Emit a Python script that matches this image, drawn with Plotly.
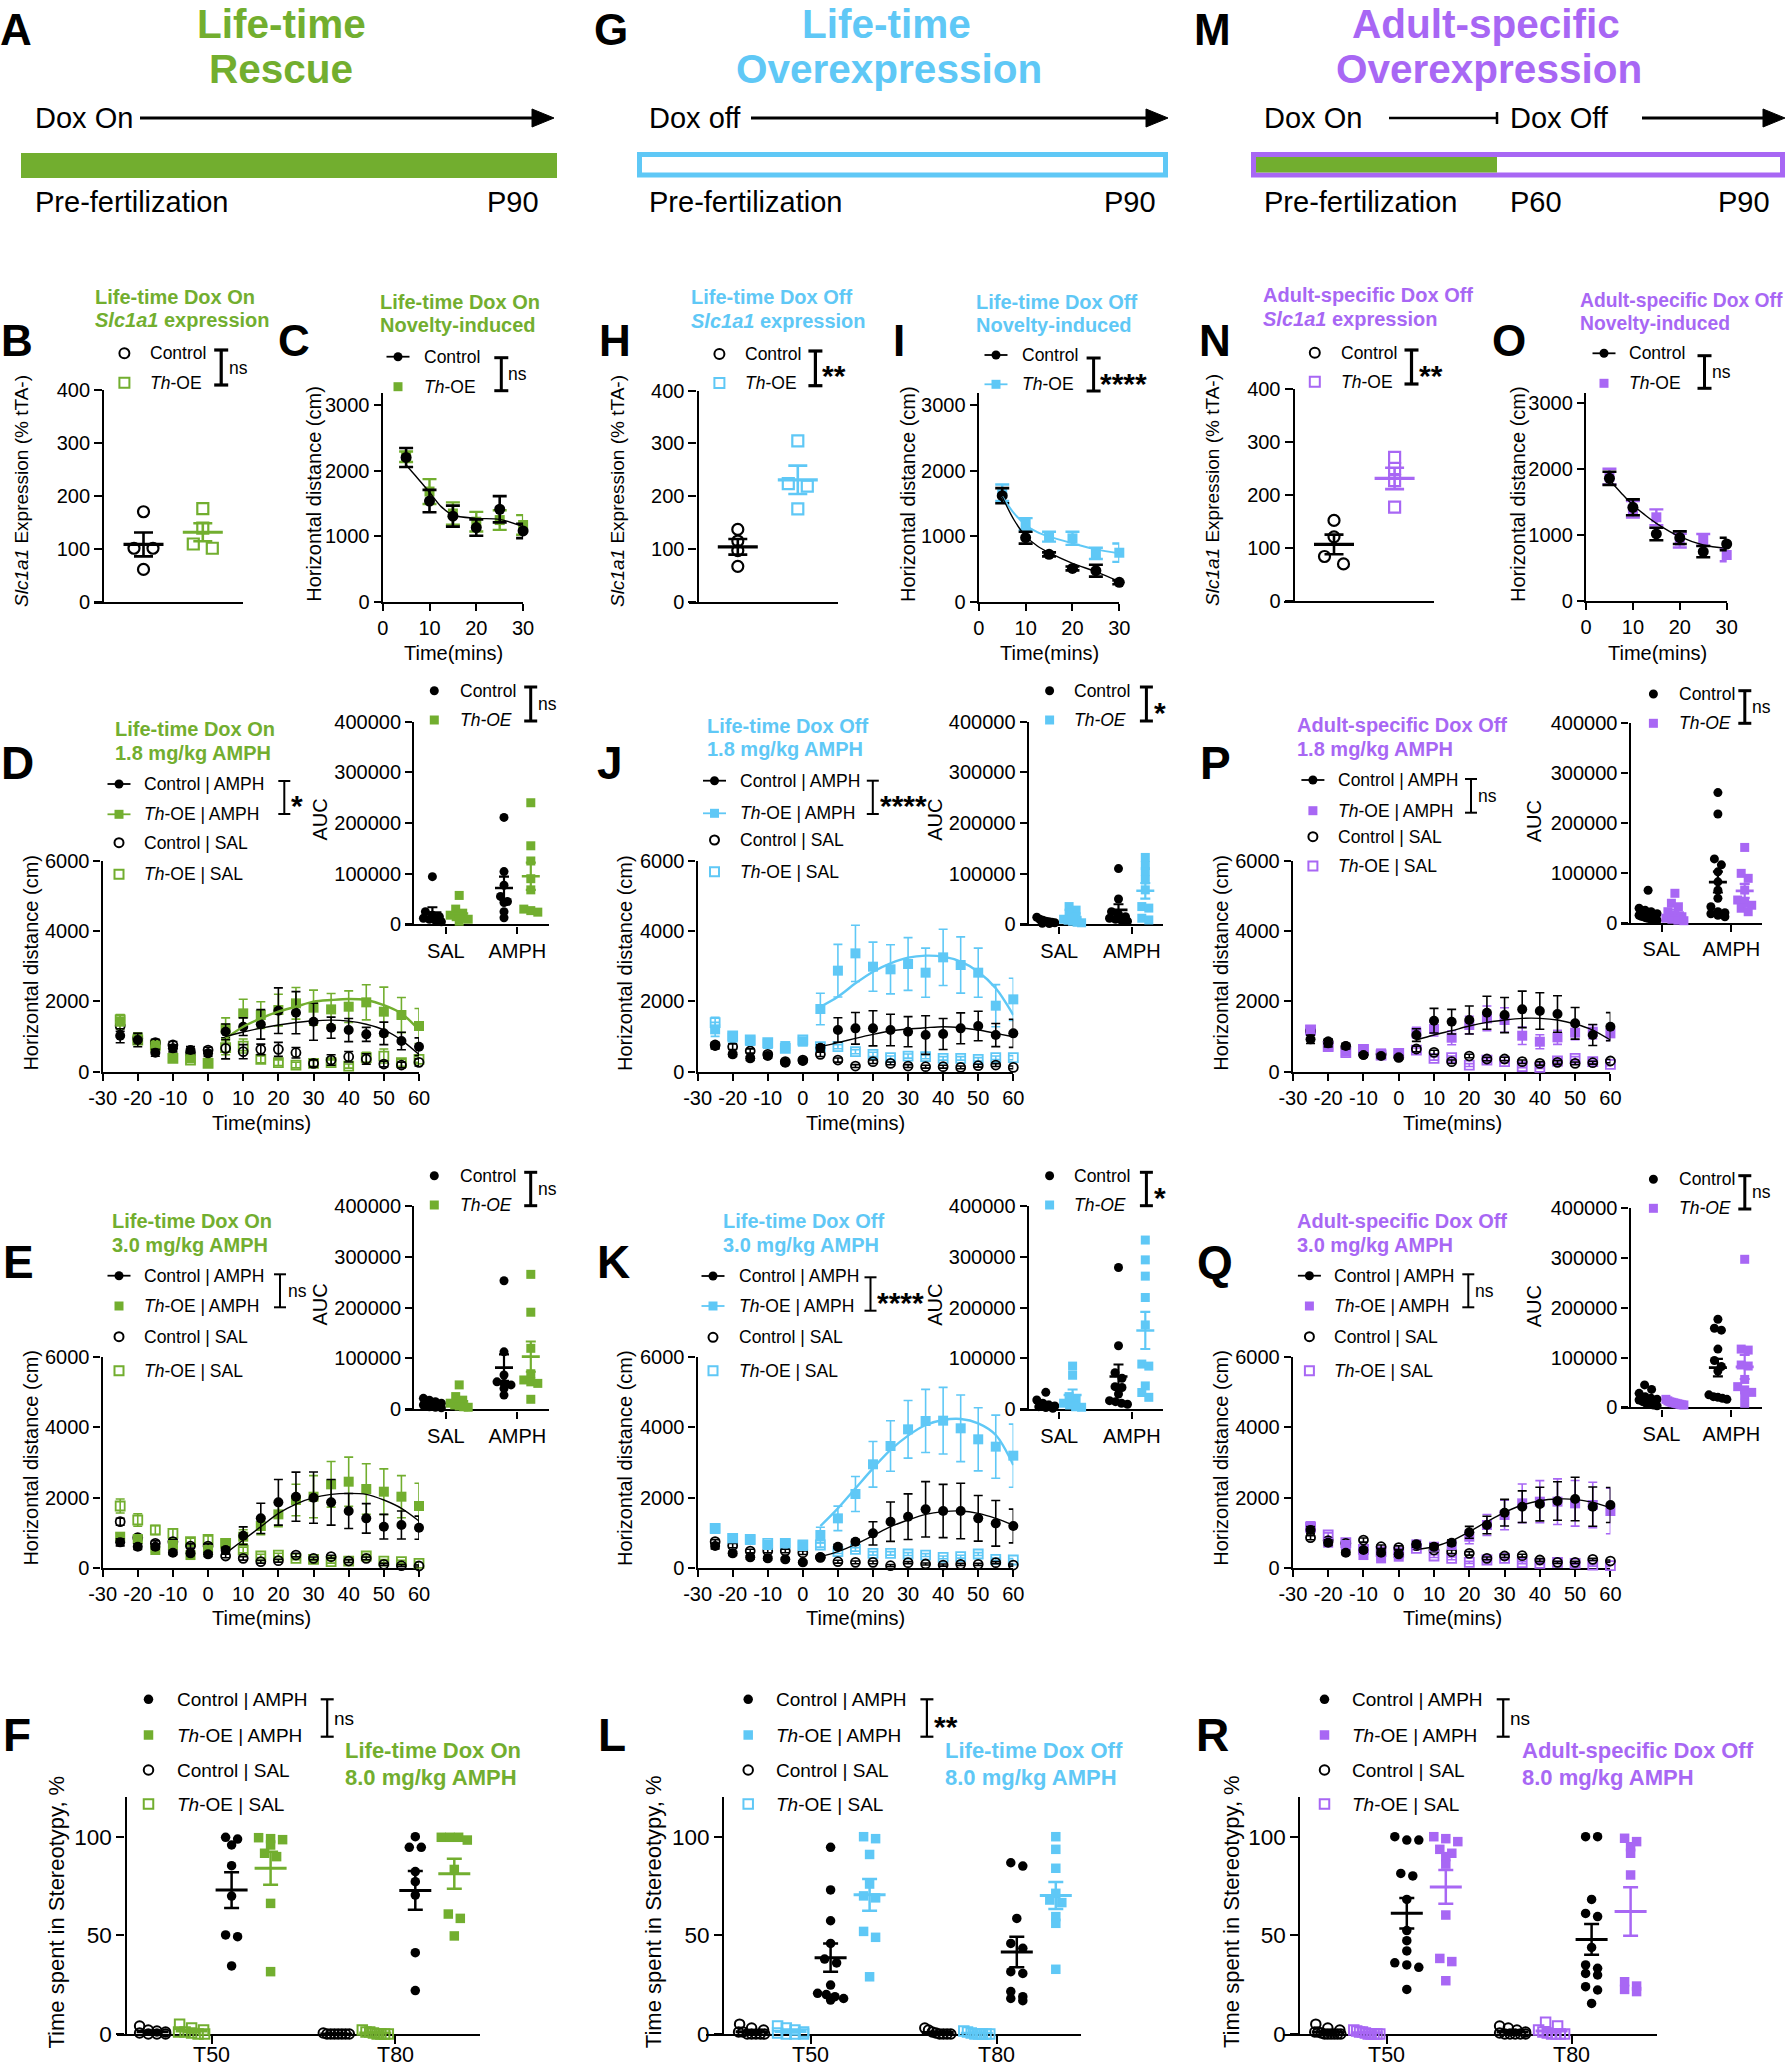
import numpy as np
import plotly.graph_objects as go

# ======================= DATA =======================
EXPR_YTICKS = [0, 100, 200, 300, 400]
NOV_XTICKS = [0, 10, 20, 30]
NOV_YTICKS = [0, 1000, 2000, 3000]
TC_XTICKS = [-30, -20, -10, 0, 10, 20, 30, 40, 50, 60]
TC_YTICKS = [0, 2000, 4000, 6000]
AUC_YTICKS = [0, 100000, 200000, 300000, 400000]
AUC_GROUPS = ["SAL", "AMPH"]
STER_YTICKS = [0, 50, 100]
STER_GROUPS = ["T50", "T80"]

# Slc1a1 expression (% tTA-)
B_CTRL = [170, 101, 101, 61]
B_OE = [176, 139, 109, 101]
H_CTRL = [137, 115, 97, 67]
H_OE = [305, 224, 219, 176]
N_CTRL = [152, 121, 84, 70]
N_OE = [271, 250, 227, 177]

# Novelty-induced locomotion
NOV_T = [5, 10, 15, 20, 25, 30]
NOV_FIT_T = [5, 7.5, 10, 12.5, 15, 20, 25, 30]
C_CTRL = [2200, 1535, 1305, 1130, 1410, 1080]
C_CTRL_E = [145, 170, 160, 125, 200, 110]
C_OE = [2210, 1680, 1345, 1220, 1245, 1170]
C_OE_E = [80, 190, 170, 150, 150, 150]
C_FIT = [2085, 1880, 1670, 1450, 1322, 1271, 1256, 1144]
I_CTRL = [1617, 976, 722, 508, 473, 295]
I_CTRL_E = [115, 90, 30, 30, 90, 30]
I_OE = [1663, 1185, 992, 966, 737, 747]
I_OE_E = [125, 90, 75, 100, 85, 140]
I_FIT_C = [1600, 1250, 1000, 850, 747, 585, 458, 305]
I_FIT_O = [1602, 1350, 1170, 1060, 992, 890, 798, 737]
O_CTRL = [1862, 1422, 1017, 961, 749, 865]
O_CTRL_E = [100, 120, 95, 95, 85, 95]
O_OE = [1887, 1391, 1270, 916, 926, 698]
O_OE_E = [120, 125, 120, 105, 90, 95]
O_FIT = [1836, 1640, 1457, 1310, 1179, 976, 850, 799]

# AMPH time courses (CA=Control|AMPH, OA=Th-OE|AMPH, CS=Control|SAL, OS=Th-OE|SAL)
TC_T = [-25, -20, -15, -10, -5, 0, 5, 10, 15, 20, 25, 30, 35, 40, 45, 50, 55, 60]
TC_FIT_T = [5, 10, 15, 20, 25, 30, 35, 40, 45, 50, 55, 60]

D_CA = [1025, 902, 541, 665, 617, 522, 1139, 1282, 1348, 1737, 1680, 1424, 1253, 1187, 1063, 1092, 873, 712]
D_CA_E = [200, 190, 100, 100, 100, 80, 220, 250, 420, 650, 600, 530, 300, 330, 200, 320, 250, 250]
D_OA = [1424, 949, 712, 399, 380, 256, 1234, 1661, 1614, 1756, 1946, 1823, 1775, 1851, 1975, 1709, 1614, 1301]
D_OA_E = [200, 150, 150, 100, 80, 80, 300, 400, 380, 450, 450, 500, 450, 450, 500, 700, 500, 500]
D_CS = [1301, 949, 826, 760, 541, 617, 665, 570, 636, 636, 541, 237, 332, 427, 361, 218, 190, 266]
D_CS_E = [150, 150, 100, 100, 80, 80, 300, 200, 150, 200, 150, 100, 150, 150, 150, 80, 80, 100]
D_OS = [1472, 902, 760, 380, 332, 237, 684, 731, 351, 256, 190, 237, 256, 161, 399, 446, 256, 351]
D_OS_E = [150, 120, 100, 80, 60, 60, 200, 200, 100, 80, 80, 80, 80, 60, 150, 200, 100, 80]
D_FIT_C = [997, 1130, 1240, 1330, 1400, 1450, 1470, 1440, 1350, 1190, 900, 490]
D_FIT_O = [949, 1282, 1519, 1709, 1851, 1994, 2041, 2070, 2041, 1899, 1661, 1187]

J_CA = [731, 494, 380, 446, 256, 304, 684, 1187, 1234, 1234, 1187, 1139, 1044, 1073, 1234, 1301, 1044, 1092]
J_CA_E = [80, 60, 60, 60, 50, 50, 80, 350, 450, 500, 450, 430, 550, 440, 440, 420, 330, 400]
J_OA = [1206, 968, 873, 788, 731, 854, 1785, 2877, 3370, 2991, 2915, 3067, 2820, 3256, 3038, 2820, 1880, 2060]
J_OA_E = [200, 100, 100, 100, 80, 80, 450, 750, 800, 700, 700, 750, 700, 800, 800, 700, 600, 600]
J_CS = [760, 712, 589, 494, 285, 332, 494, 332, 161, 285, 237, 161, 142, 142, 123, 171, 190, 123]
J_CS_E = [80, 80, 60, 60, 40, 40, 60, 60, 40, 50, 40, 40, 40, 40, 40, 40, 40, 40]
J_OS = [1396, 1016, 902, 826, 665, 902, 712, 712, 570, 494, 399, 446, 427, 380, 380, 351, 399, 399]
J_OS_E = [150, 100, 80, 80, 80, 80, 60, 60, 60, 60, 50, 60, 60, 50, 50, 50, 50, 60]
J_FIT_C = [712, 826, 949, 1063, 1158, 1215, 1253, 1282, 1253, 1187, 1092, 997]
J_FIT_O = [1851, 2136, 2516, 2848, 3086, 3247, 3304, 3275, 3133, 2848, 2374, 1614]

P_CA = [921, 807, 731, 475, 446, 408, 1044, 1453, 1424, 1472, 1680, 1614, 1775, 1728, 1643, 1377, 1044, 1282]
P_CA_E = [120, 100, 80, 60, 60, 60, 180, 350, 350, 400, 470, 500, 520, 520, 520, 450, 300, 400]
P_OA = [1187, 731, 570, 636, 522, 522, 1111, 1215, 968, 1329, 1519, 1472, 1025, 854, 978, 1111, 1139, 1092]
P_OA_E = [120, 80, 80, 60, 60, 60, 150, 200, 200, 250, 350, 350, 250, 200, 200, 200, 200, 200]
P_CS = [1158, 854, 712, 494, 494, 408, 646, 551, 285, 446, 361, 361, 285, 237, 266, 237, 256, 304]
P_CS_E = [100, 80, 60, 60, 50, 50, 80, 60, 50, 50, 50, 50, 50, 50, 50, 40, 40, 50]
P_OS = [1187, 712, 541, 636, 475, 522, 617, 380, 399, 190, 332, 285, 142, 123, 304, 380, 285, 209]
P_OS_E = [100, 60, 60, 50, 50, 50, 60, 50, 50, 40, 40, 40, 30, 30, 40, 50, 40, 40]
P_FIT_C = [902, 1044, 1168, 1301, 1405, 1472, 1519, 1519, 1472, 1358, 1187, 902]

E_CA = [723, 599, 599, 428, 409, 380, 504, 913, 1407, 1864, 2025, 1997, 1864, 1617, 1407, 1170, 1217, 1141]
E_CA_E = [100, 80, 70, 60, 60, 60, 80, 250, 430, 650, 700, 730, 650, 500, 420, 350, 400, 330]
E_OA = [884, 818, 504, 647, 361, 504, 694, 884, 1189, 1521, 1930, 2025, 2377, 2453, 2244, 2168, 2025, 1759]
E_OA_E = [100, 80, 60, 60, 50, 60, 100, 200, 250, 350, 450, 600, 650, 700, 720, 650, 600, 650]
E_CS = [1312, 856, 694, 742, 618, 618, 333, 266, 171, 200, 361, 266, 314, 190, 266, 95, 57, 48]
E_CS_E = [100, 80, 70, 60, 60, 60, 50, 50, 40, 40, 50, 40, 40, 40, 40, 30, 30, 30]
E_OS = [1759, 1360, 1075, 979, 742, 808, 694, 504, 333, 361, 266, 238, 171, 190, 333, 190, 171, 124]
E_OS_E = [200, 180, 130, 130, 100, 100, 80, 80, 50, 50, 40, 40, 40, 40, 40, 40, 40, 40]
E_FIT_C = [409, 789, 1170, 1550, 1816, 1997, 2092, 2120, 2092, 1930, 1693, 1331]

K_CA = [618, 409, 295, 266, 238, 152, 295, 599, 742, 979, 1312, 1455, 1664, 1617, 1617, 1407, 1265, 1189]
K_CA_E = [80, 60, 50, 50, 40, 40, 50, 60, 60, 330, 560, 650, 790, 760, 790, 650, 650, 480]
K_OA = [1103, 837, 789, 647, 694, 618, 932, 1407, 2101, 2948, 3471, 3946, 4184, 4193, 3975, 3661, 3452, 3195]
K_OA_E = [100, 80, 80, 60, 60, 60, 220, 350, 500, 650, 720, 820, 900, 950, 950, 900, 900, 900]
K_CS = [742, 628, 475, 475, 475, 428, 295, 171, 152, 152, 57, 143, 105, 76, 95, 95, 143, 76]
K_CS_E = [60, 60, 50, 50, 50, 50, 40, 40, 40, 40, 30, 30, 30, 30, 30, 30, 30, 30]
K_OS = [1122, 837, 808, 694, 694, 647, 647, 456, 523, 409, 409, 390, 361, 295, 314, 390, 238, 219]
K_OS_E = [100, 80, 80, 60, 60, 60, 60, 50, 50, 50, 50, 40, 40, 40, 40, 40, 40, 40]
K_FIT_C = [314, 456, 666, 913, 1170, 1360, 1521, 1598, 1617, 1550, 1407, 1217]
K_FIT_O = [1189, 1693, 2263, 2834, 3357, 3766, 4070, 4213, 4241, 4117, 3785, 2929]

Q_CA = [1075, 713, 428, 504, 428, 380, 666, 599, 713, 1008, 1217, 1569, 1740, 1816, 1902, 1959, 1740, 1788]
Q_CA_E = [100, 80, 60, 60, 60, 50, 80, 80, 80, 170, 250, 380, 450, 480, 550, 620, 560, 500]
Q_OA = [1189, 713, 647, 361, 266, 314, 666, 599, 647, 884, 1217, 1502, 1835, 1883, 1883, 1835, 1788, 1617]
Q_OA_E = [100, 60, 60, 50, 50, 50, 60, 60, 80, 200, 300, 420, 550, 600, 650, 650, 650, 650]
Q_CS = [856, 770, 694, 789, 599, 571, 628, 504, 456, 409, 266, 333, 342, 219, 152, 152, 238, 190]
Q_CS_E = [60, 60, 60, 60, 50, 50, 50, 50, 50, 50, 40, 40, 40, 40, 30, 30, 30, 30]
Q_OS = [1151, 932, 713, 523, 456, 428, 552, 333, 266, 152, 219, 266, 143, 124, 152, 124, 76, 57]
Q_OS_E = [80, 60, 50, 50, 40, 40, 40, 40, 40, 30, 30, 30, 30, 30, 30, 30, 30, 30]
Q_FIT_C = [523, 599, 770, 1027, 1312, 1578, 1788, 1911, 1959, 1949, 1864, 1712]

# AUC insets
D_AUC_SAL_C = [94000, 25000, 18000, 15000, 12000, 10000, 8000, 5000]
D_AUC_SAL_O = [57000, 30000, 22000, 18000, 15000, 12000, 10000, 6000]
D_AUC_AMPH_C = [211000, 104000, 77000, 55000, 45000, 43000, 25000, 13000]
D_AUC_AMPH_O = [240000, 155000, 125000, 90000, 68000, 30000, 27000, 24000]
J_AUC_SAL_C = [14000, 10000, 8000, 6000, 5000, 4000, 3000, 2000, 1500]
J_AUC_SAL_O = [35000, 28000, 22000, 15000, 10000, 8000, 6000, 4000, 3000]
J_AUC_AMPH_C = [110000, 50000, 25000, 20000, 15000, 12000, 10000, 8000, 6000]
J_AUC_AMPH_O = [132000, 116000, 104000, 87500, 68000, 35000, 32000, 12000, 8600]
P_AUC_SAL_C = [65000, 29000, 25000, 22000, 18000, 15000, 13000, 12000, 10000, 9000, 8000, 7000, 6000, 5000]
P_AUC_SAL_O = [59000, 39000, 32000, 22000, 15000, 12000, 9000, 7000, 5000, 4000]
P_AUC_AMPH_C = [261000, 218000, 128000, 116000, 102000, 82000, 65000, 49000, 32000, 22000, 20000, 18000, 15000, 12000]
P_AUC_AMPH_O = [151000, 99000, 89000, 65500, 45500, 39000, 35000, 29000, 22000]
E_AUC_SAL_C = [21600, 18000, 15000, 12000, 8500, 5000, 4000, 3000]
E_AUC_SAL_O = [48000, 25000, 18000, 12000, 8500, 6500, 5000, 4000]
E_AUC_AMPH_C = [253000, 113000, 67500, 54000, 51000, 48000, 41000, 28000]
E_AUC_AMPH_O = [265500, 191000, 120000, 70000, 57700, 54000, 51000, 19700]
K_AUC_SAL_C = [33400, 18400, 11800, 8500, 6600, 5200, 3300, 2000]
K_AUC_SAL_O = [85000, 67000, 25000, 18000, 12000, 8500, 5000, 4000]
K_AUC_AMPH_C = [279000, 125000, 72000, 61000, 44500, 43000, 30000, 17000, 15000, 12000, 10000]
K_AUC_AMPH_O = [333000, 294000, 262000, 220000, 166000, 89000, 85000, 46000, 33000, 23600]
Q_AUC_SAL_C = [45000, 36000, 28000, 21400, 18000, 16000, 14700, 11400, 8000, 6000, 4700, 3000]
Q_AUC_SAL_O = [16000, 13000, 11000, 10000, 9000, 8000, 7000, 6000, 5000, 4700]
Q_AUC_AMPH_C = [177000, 159000, 155000, 117000, 94000, 82000, 73000, 25000, 21400, 20000, 18000, 16000]
Q_AUC_AMPH_O = [297500, 117000, 115000, 85000, 83000, 56000, 41500, 35000, 30000, 25000, 8000]

# Stereotypy (% time) -- CS, OS, CA, OA per time bin
F_T50_CS = [4, 2, 1.5, 1, 0.5, 0, 0, 0]
F_T50_OS = [5, 3, 2, 1, 1, 0.5, 0, 0]
F_T50_CA = [99.7, 98.8, 95.8, 85.3, 69.9, 50.2, 49.3, 34.5]
F_T50_OA = [99.5, 99, 98.5, 95.8, 91.6, 89.9, 66.2, 31.6]
F_T80_CS = [0.5, 0, 0, 0, 0, 0, 0, 0]
F_T80_OS = [2, 1, 1, 0.5, 0, 0, 0, 0]
F_T80_CA = [100, 94.6, 94.6, 82.3, 77.2, 70.4, 41.2, 22]
F_T80_OA = [99.7, 99.7, 99.7, 98.3, 83.4, 60.8, 58.6, 49.7]
L_T50_CS = [5, 3, 2, 1, 1, 0, 0, 0, 0, 0]
L_T50_OS = [4, 3, 2, 1, 0.5, 0, 0, 0]
L_T50_CA = [94.6, 73, 57.4, 45.9, 38, 36, 24.8, 20.6, 20, 18.9, 18, 17.2]
L_T50_OA = [100, 99, 91, 76, 70, 69, 52, 49, 29]
L_T80_CS = [3, 2, 1, 0.5, 0, 0, 0, 0]
L_T80_OS = [1.5, 1, 0.5, 0, 0, 0, 0, 0]
L_T80_CA = [86.8, 85.1, 58.6, 45.9, 43.4, 31.6, 30.7, 21.5, 18.9, 18, 16.9]
L_T80_OA = [100, 93.6, 84, 71.3, 67.9, 66.6, 59.5, 56.1, 32.8]
R_T50_CS = [5, 3, 2, 1, 1, 0.5, 0, 0, 0, 0, 0, 0]
R_T50_OS = [2, 1.5, 1, 1, 0.5, 0, 0, 0, 0, 0]
R_T50_CA = [100, 98.3, 98.3, 81.4, 80.1, 68.2, 52.4, 47.3, 42.1, 36.1, 35, 33.8, 22.6]
R_T50_OA = [100, 99, 97.5, 93.6, 91.6, 89.9, 86.1, 60.3, 38.3, 36.7, 27]
R_T80_CS = [4, 3, 2, 1, 0.5, 0, 0, 0, 0, 0]
R_T80_OS = [6, 4, 2, 1, 0.5, 0, 0, 0, 0]
R_T80_CA = [100, 100, 68.2, 61.1, 59.5, 43.9, 35, 33.3, 30.7, 29.9, 24, 22.3, 15.5]
R_T80_OA = [99.2, 97.5, 94.9, 91.6, 80.6, 26.5, 24.3, 22.6, 21.5]

# ======================= STYLE / HELPERS =======================
W, H = 1792, 2070
FONT = "Liberation Sans, Arial, Helvetica, sans-serif"
GREEN = "#72AE2F"
BLUE = "#5FC8F6"
PURPLE = "#A867F4"

fig = go.Figure()
SHAPES, ANNS, AXES = [], [], {}
_count = [0]


def PX(x):
    return x / W


def PY(y):
    return 1 - y / H


def base_axis(fs, tl):
    return dict(showline=True, linecolor="black", linewidth=2.4, ticks="outside", ticklen=tl,
                tickwidth=2.2, tickcolor="black", showgrid=False, zeroline=False,
                layer="below traces", fixedrange=True, automargin=False,
                tickfont=dict(family=FONT, size=fs, color="black"))


def new_axes(x0, x1, xrange, yb, yt, yrange, ypos=None, fs=20, tl=7, xkw=None, ykw=None):
    _count[0] += 1
    n = _count[0]
    sfx = "" if n == 1 else str(n)
    xa = base_axis(fs, tl)
    ya = base_axis(fs, tl)
    xa.update(domain=[PX(x0), PX(x1)], range=list(xrange), anchor="y" + sfx)
    ya.update(domain=[PY(yb), PY(yt)], range=list(yrange), anchor="x" + sfx)
    if ypos is not None:
        ya.update(anchor="free", position=PX(ypos))
    if xkw:
        xa.update(xkw)
    if ykw:
        ya.update(ykw)
    AXES["xaxis" + sfx] = xa
    AXES["yaxis" + sfx] = ya
    return "x" + sfx, "y" + sfx


def T(x, y, s, size, color="black", anchor="left", bold=False, angle=0):
    if bold:
        s = "<b>" + s + "</b>"
    ANNS.append(dict(x=PX(x), y=PY(y), xref="paper", yref="paper", text=s, showarrow=False,
                     xanchor=anchor, yanchor="middle", textangle=angle, borderpad=0,
                     font=dict(family=FONT, size=size, color=color)))


def LINE(x0, y0, x1, y1, color="black", w=2.0):
    SHAPES.append(dict(type="line", xref="paper", yref="paper", x0=PX(x0), y0=PY(y0),
                       x1=PX(x1), y1=PY(y1), line=dict(color=color, width=w)))


def RECT(x0, y0, x1, y1, fill, color=None, w=0):
    SHAPES.append(dict(type="rect", xref="paper", yref="paper", x0=PX(x0), y0=PY(y1),
                       x1=PX(x1), y1=PY(y0), fillcolor=fill,
                       line=dict(color=color or fill, width=w)))


def SYM(x, y, kind, color, filled, size=10, lw=2, seg=0, segw=1.8):
    if seg:
        LINE(x - seg, y, x + seg, y, color, segw)
    r = size / 2.0
    SHAPES.append(dict(type="circle" if kind == "c" else "rect", xref="paper", yref="paper",
                       x0=PX(x - r), x1=PX(x + r), y0=PY(y + r), y1=PY(y - r),
                       fillcolor=color if filled else "white",
                       line=dict(color=color, width=0 if filled else lw)))


def BRACKET(x, y0, y1, cap=6.5, w=2.5):
    LINE(x, y0, x, y1, "black", w)
    LINE(x - cap, y0, x + cap, y0, "black", w)
    LINE(x - cap, y1, x + cap, y1, "black", w)


def SIG(x, y, s, size=17.5):
    if s == "ns":
        T(x, y, "ns", size)
    else:
        T(x, y + 8, s, 30, bold=True)


def ARROW(x0, x1, y, w=3, hl=22, hw=9):
    LINE(x0, y, x1 - hl + 2, y, "black", w)
    SHAPES.append(dict(type="path", xref="paper", yref="paper",
                       path="M %f,%f L %f,%f L %f,%f Z" % (PX(x1 - hl), PY(y - hw), PX(x1), PY(y),
                                                         PX(x1 - hl), PY(y + hw)),
                       fillcolor="black", line=dict(color="black", width=1)))


def swarm(vals, ppu_y, d, maxw, rowh):
    vals = np.asarray(vals, float)
    order = np.argsort(-vals, kind="stable")
    offs = np.zeros(len(vals))
    rows, cur = [], []
    for i in order:
        if cur and (vals[cur[0]] - vals[i]) * ppu_y > rowh:
            rows.append(cur)
            cur = []
        cur.append(i)
    if cur:
        rows.append(cur)
    for r in rows:
        n = len(r)
        step = d if (n - 1) * d <= maxw else maxw / max(n - 1, 1)
        for k, i in enumerate(r):
            offs[i] = (k - (n - 1) / 2.0) * step
    return offs


def dots(xa, ya, xc, vals, ppu_x, ppu_y, symbol, color, size, lw, d, maxw, rowh,
         mhalf, chalf, mth, eth):
    v = np.asarray(vals, float)
    offs = swarm(v, ppu_y, d, maxw, rowh)
    fig.add_trace(go.Scatter(x=xc + offs / ppu_x, y=v, mode="markers", xaxis=xa, yaxis=ya,
                             marker=dict(symbol=symbol, size=size, color=color,
                                         line=dict(color=color, width=lw)),
                             cliponaxis=False, showlegend=False, hoverinfo="skip"))
    m = v.mean()
    s = v.std(ddof=1) / np.sqrt(len(v))
    fig.add_trace(go.Scatter(x=[xc], y=[m], mode="markers", xaxis=xa, yaxis=ya,
                             marker=dict(size=1, color=color, opacity=0),
                             error_x=dict(type="constant", value=mhalf / ppu_x, width=0,
                                          thickness=mth, color=color),
                             error_y=dict(type="constant", value=s, width=chalf,
                                          thickness=eth, color=color),
                             cliponaxis=False, showlegend=False, hoverinfo="skip"))


def series(xa, ya, t, v, e, symbol, color, size, lw, ew=4.5, eth=1.6):
    fig.add_trace(go.Scatter(x=t, y=v, mode="markers", xaxis=xa, yaxis=ya,
                             marker=dict(symbol=symbol, size=size, color=color,
                                         line=dict(color=color, width=lw)),
                             error_y=dict(type="data", array=e, visible=True, width=ew,
                                          thickness=eth, color=color),
                             cliponaxis=False, showlegend=False, hoverinfo="skip"))


def fitline(xa, ya, t, v, color, w):
    fig.add_trace(go.Scatter(x=t, y=v, mode="lines", xaxis=xa, yaxis=ya,
                             line=dict(color=color, width=w, shape="spline", smoothing=0.9),
                             cliponaxis=False, showlegend=False, hoverinfo="skip"))


def ticks(vals):
    return dict(tickvals=vals, ticktext=[str(v) for v in vals])


# ======================= TOP ROW (A, G, M) =======================
TOPF = 29
HEADF = 40.5
T(-1, 29, "A", 44, bold=True)
T(281, 24, "Life-time", HEADF, GREEN, "center", True)
T(281, 69, "Rescue", HEADF, GREEN, "center", True)
T(34, 118, "Dox On", TOPF)
ARROW(140, 554, 118)
RECT(21, 153, 557, 178, GREEN)
T(34, 202, "Pre-fertilization", TOPF)
T(540, 202, "P90", TOPF, anchor="right")

T(593, 29, "G", 44, bold=True)
T(886, 24, "Life-time", HEADF, BLUE, "center", True)
T(889, 69, "Overexpression", HEADF, BLUE, "center", True)
T(648, 118, "Dox off", TOPF)
ARROW(751, 1168, 118)
RECT(639.5, 154.5, 1165.5, 175, "white", BLUE, 5)
T(648, 202, "Pre-fertilization", TOPF)
T(1157, 202, "P90", TOPF, anchor="right")

T(1193, 29, "M", 44, bold=True)
T(1486, 24, "Adult-specific", HEADF, PURPLE, "center", True)
T(1489, 69, "Overexpression", HEADF, PURPLE, "center", True)
T(1263, 118, "Dox On", TOPF)
LINE(1389, 118, 1497, 118, "black", 2.5)
LINE(1497, 112, 1497, 124, "black", 2.5)
T(1509, 118, "Dox Off", TOPF)
ARROW(1642, 1785, 118)
RECT(1253.5, 154.5, 1782.5, 175, "white", PURPLE, 5)
RECT(1256, 157, 1497, 172.5, GREEN)
T(1263, 202, "Pre-fertilization", TOPF)
T(1509, 202, "P60", TOPF)
T(1771, 202, "P90", TOPF, anchor="right")

# ======================= ROW 2: expression (B,H,N) & novelty (C,I,O) ===========
YLAB_EXPR = "<i>Slc1a1</i> Expression (% tTA-)"
YLAB_HD = "Horizontal distance (cm)"
AXF = 20


def expr_panel(g, ctrl, oe, color):
    ppu_x = g["c1"] - g["c0"]
    ppu_y = (g["y0"] - g["yt"]) / 400.0
    xr = [(g["xlo"] - g["c0"]) / ppu_x, (g["xhi"] - g["c0"]) / ppu_x]
    xa, ya = new_axes(g["xlo"], g["xhi"], xr, g["y0"], g["yt"], [0, 400], ypos=g["yx"], tl=8,
                      xkw=dict(ticks="", showticklabels=False), ykw=ticks(EXPR_YTICKS))
    dots(xa, ya, 0, ctrl, ppu_x, ppu_y, "circle-open", "black", 11, 2.2, 19, 40, 9, 20, 9.5, 3.2, 2.6)
    dots(xa, ya, 1, oe, ppu_x, ppu_y, "square-open", color, 11, 2.2, 19, 40, 9, 20, 9.5, 3.2, 2.6)


def nov_panel(g, ctrl, ce, oe, oee, fitc, fito, color):
    ymax = 3000.0 * (g["y0"] - g["yt"]) / (g["y0"] - g["y3k"])
    xa, ya = new_axes(g["x0"], g["x30"], [0, 30], g["y0"], g["yt"], [0, ymax], tl=7,
                      xkw=ticks(NOV_XTICKS), ykw=ticks(NOV_YTICKS))
    series(xa, ya, NOV_T, oe, oee, "square", color, 10, 0, ew=7, eth=2.4)
    series(xa, ya, NOV_T, ctrl, ce, "circle", "black", 11, 0, ew=7, eth=2.6)
    if fito is not None:
        fitline(xa, ya, NOV_FIT_T, fito, color, 2.0)
    fitline(xa, ya, NOV_FIT_T, fitc, "black", 1.4)


expr_panel(dict(yx=103.3, xlo=93.8, xhi=243.4, c0=143.5, c1=202.8, y0=601.7, yt=390.0), B_CTRL, B_OE, GREEN)
expr_panel(dict(yx=697.6, xlo=688.8, xhi=838.0, c0=737.8, c1=797.8, y0=601.7, yt=390.7), H_CTRL, H_OE, BLUE)
expr_panel(dict(yx=1293.7, xlo=1284.0, xhi=1434.2, c0=1334.0, c1=1394.6, y0=601.0, yt=389.0), N_CTRL, N_OE, PURPLE)
nov_panel(dict(x0=382.7, x30=523.1, y0=601.7, y3k=405.0, yt=393.3), C_CTRL, C_CTRL_E, C_OE, C_OE_E, C_FIT, None, GREEN)
nov_panel(dict(x0=978.8, x30=1119.3, y0=601.7, y3k=405.0, yt=393.3), I_CTRL, I_CTRL_E, I_OE, I_OE_E, I_FIT_C, I_FIT_O, BLUE)
nov_panel(dict(x0=1586.0, x30=1726.7, y0=601.0, y3k=403.3, yt=392.7), O_CTRL, O_CTRL_E, O_OE, O_OE_E, O_FIT, None, PURPLE)

LF = 17.5
TF = 20
# B
T(0, 340, "B", 44, bold=True)
T(94, 297, "Life-time Dox On", TF, GREEN, bold=True)
T(94, 320.5, "<i>Slc1a1</i> expression", TF, GREEN, bold=True)
SYM(124.4, 353.3, "c", "black", False, 10)
T(149, 353.3, "Control", LF)
SYM(124.4, 382.7, "s", GREEN, False, 10)
T(149, 382.7, "<i>Th</i>-OE", LF)
BRACKET(221.2, 350, 385, 7, 3.2)
SIG(228, 368, "ns")
T(21, 491, YLAB_EXPR, 19, anchor="center", angle=-90)
# C
T(277, 340, "C", 44, bold=True)
T(379, 301.7, "Life-time Dox On", TF, GREEN, bold=True)
T(379, 325, "Novelty-induced", TF, GREEN, bold=True)
SYM(398, 356.7, "c", "black", True, 9, seg=11.5)
T(422.8, 356.7, "Control", LF)
SYM(398, 386.7, "s", GREEN, True, 9)
T(422.8, 386.7, "<i>Th</i>-OE", LF)
BRACKET(501.3, 357.7, 390.7, 7, 3)
SIG(507, 374, "ns")
T(313.8, 494, YLAB_HD, AXF, anchor="center", angle=-90)
T(453.5, 653, "Time(mins)", AXF, anchor="center")
# H
T(598, 340, "H", 44, bold=True)
T(690, 296.7, "Life-time Dox Off", TF, BLUE, bold=True)
T(690, 320.7, "<i>Slc1a1</i> expression", TF, BLUE, bold=True)
SYM(719.4, 354, "c", "black", False, 10)
T(743.5, 354, "Control", LF)
SYM(719.4, 383, "s", BLUE, False, 10)
T(743.5, 383, "<i>Th</i>-OE", LF)
BRACKET(815.4, 351, 385.7, 7, 3.2)
SIG(821, 368, "**")
T(617, 491, YLAB_EXPR, 19, anchor="center", angle=-90)
# I
T(892, 340, "I", 44, bold=True)
T(975, 301.7, "Life-time Dox Off", TF, BLUE, bold=True)
T(975, 325, "Novelty-induced", TF, BLUE, bold=True)
SYM(996, 355, "c", "black", True, 9, seg=11.5)
T(1021, 355, "Control", LF)
SYM(996, 384.3, "s", BLUE, True, 9, seg=11.5)
T(1021, 384.3, "<i>Th</i>-OE", LF)
BRACKET(1093.6, 358, 391, 7, 3)
SIG(1099, 375, "****")
T(908, 494, YLAB_HD, AXF, anchor="center", angle=-90)
T(1049, 653, "Time(mins)", AXF, anchor="center")
# N
T(1198, 340, "N", 44, bold=True)
T(1262, 295, "Adult-specific Dox Off", TF, PURPLE, bold=True)
T(1262, 319, "<i>Slc1a1</i> expression", TF, PURPLE, bold=True)
SYM(1314.8, 352.7, "c", "black", False, 10)
T(1339.7, 352.7, "Control", LF)
SYM(1314.8, 381.7, "s", PURPLE, False, 10)
T(1339.7, 381.7, "<i>Th</i>-OE", LF)
BRACKET(1411.5, 350, 384, 7, 3.2)
SIG(1418, 367, "**")
T(1213, 490, YLAB_EXPR, 19, anchor="center", angle=-90)
# O
T(1491, 340, "O", 44, bold=True)
T(1579, 300.7, "Adult-specific Dox Off", 19.3, PURPLE, bold=True)
T(1579, 324, "Novelty-induced", 19.3, PURPLE, bold=True)
SYM(1604, 353.3, "c", "black", True, 9, seg=11.5)
T(1627.7, 353.3, "Control", LF)
SYM(1604, 383.3, "s", PURPLE, True, 9)
T(1627.7, 383.3, "<i>Th</i>-OE", LF)
BRACKET(1704.5, 355.7, 388.3, 7, 3)
SIG(1711, 371.7, "ns")
T(1518, 494, YLAB_HD, AXF, anchor="center", angle=-90)
T(1657, 653, "Time(mins)", AXF, anchor="center")

# ======================= ROWS 3-4: AMPH time courses + AUC insets ===========


def tc_block(p, CA, CAE, OA, OAE, CS, CSE, OS, OSE, FITC, FITO, A_SC, A_SO, A_AC, A_AO):
    color = p["color"]
    m = p["main"]
    xa, ya = new_axes(m["x0"], m["x1"], [-30, 60], m["y0"], m["y1"], [0, 6000], tl=7,
                      xkw=ticks(TC_XTICKS), ykw=ticks(TC_YTICKS))
    series(xa, ya, TC_T, OS, OSE, "square-open", color, 9, 1.8)
    series(xa, ya, TC_T, CS, CSE, "circle-open", "black", 9, 1.8)
    series(xa, ya, TC_T, OA, OAE, "square", color, 10, 0)
    series(xa, ya, TC_T, CA, CAE, "circle", "black", 10, 0)
    if FITO is not None:
        fitline(xa, ya, TC_FIT_T, FITO, color, 2.4)
    fitline(xa, ya, TC_FIT_T, FITC, "black", 1.4)

    g = p["inset"]
    ppu_x = g["amph"] - g["sal"]
    ppu_y = (g["y0"] - g["y1"]) / 400000.0
    xr = [(g["xlo"] - g["sal"]) / ppu_x, (g["xhi"] - g["sal"]) / ppu_x]
    xb, yb = new_axes(g["xlo"], g["xhi"], xr, g["y0"], g["y1"], [0, 400000], ypos=g["yx"], tl=7,
                      xkw=dict(tickvals=[0, 1], ticktext=AUC_GROUPS), ykw=ticks(AUC_YTICKS))
    o = 13.4 / ppu_x
    for xc, vals, sym, col in [(-o, A_SC, "circle", "black"), (o, A_SO, "square", color),
                               (1 - o, A_AC, "circle", "black"), (1 + o, A_AO, "square", color)]:
        dots(xb, yb, xc, vals, ppu_x, ppu_y, sym, col, 9, 0, 7, 18, 6, 9, 5, 2.6, 2.2)

    # texts
    T(p["lx"], p["ly"], p["letter"], 46, bold=True)
    T(p["tx"], p["t1y"], p["title"], TF, color, bold=True)
    T(p["tx"], p["t1y"] + 23.5, p["dose"], TF, color, bold=True)
    ys = p["lys"]
    SYM(p["lsx"], ys[0], "c", "black", True, 9, seg=11.5)
    SYM(p["lsx"], ys[1], "s", color, True, 9, seg=11.5 if p["oe_line"] else 0)
    SYM(p["lsx"], ys[2], "c", "black", False, 9)
    SYM(p["lsx"], ys[3], "s", color, False, 9)
    for y, lab in zip(ys, ["Control | AMPH", "<i>Th</i>-OE | AMPH", "Control | SAL", "<i>Th</i>-OE | SAL"]):
        T(p["ltx"], y, lab, LF)
    BRACKET(p["brx"], p["bry"][0], p["bry"][1], 6, 2)
    SIG(p["sgx"], (p["bry"][0] + p["bry"][1]) / 2.0, p["sig"])
    T(p["ytx"], p["yty"], YLAB_HD, AXF, anchor="center", angle=-90)
    T(p["xtx"], p["xty"], "Time(mins)", AXF, anchor="center")
    T(p["aucx"], p["aucy"], "AUC", AXF, anchor="center", angle=-90)
    iy = p["ilys"]
    SYM(p["ilsx"], iy[0], "c", "black", True, 9)
    T(p["iltx"], iy[0], "Control", LF)
    SYM(p["ilsx"], iy[1], "s", color, True, 9)
    T(p["iltx"], iy[1], "<i>Th-OE</i>", LF)
    BRACKET(p["ibrx"], p["ibry"][0], p["ibry"][1], 6.5, 3)
    SIG(p["ibrx"] + 6.5, (p["ibry"][0] + p["ibry"][1]) / 2.0, p["isig"])


tc_block(dict(letter="D", lx=0, ly=763, color=GREEN, title="Life-time Dox On", dose="1.8 mg/kg AMPH",
              tx=113.7, t1y=729.3, lsx=119, ltx=142.7, lys=[784, 814.3, 842.7, 874.3], oe_line=True,
              brx=284.3, bry=(781, 814), sig="*", sgx=290, ytx=30.6, yty=963, xtx=261, xty=1122.7,
              main=dict(x0=102.6, x1=419, y0=1071.7, y1=861),
              inset=dict(yx=413.3, xlo=404.9, xhi=549.1, sal=445.8, amph=517.4, y0=924.3, y1=721.7),
              aucx=319.5, aucy=820, ilsx=434.3, iltx=459.2, ilys=[690.7, 720], ibrx=530.7,
              ibry=(687, 721), isig="ns"),
         D_CA, D_CA_E, D_OA, D_OA_E, D_CS, D_CS_E, D_OS, D_OS_E, D_FIT_C, D_FIT_O,
         D_AUC_SAL_C, D_AUC_SAL_O, D_AUC_AMPH_C, D_AUC_AMPH_O)

tc_block(dict(letter="J", lx=596, ly=763, color=BLUE, title="Life-time Dox Off", dose="1.8 mg/kg AMPH",
              tx=706.4, t1y=726, lsx=714.5, ltx=739, lys=[780.7, 813.3, 840, 871.7], oe_line=True,
              brx=872.8, bry=(780.7, 814), sig="****", sgx=879, ytx=625, yty=963, xtx=855.4, xty=1122.7,
              main=dict(x0=697.6, x1=1013.3, y0=1071.7, y1=861),
              inset=dict(yx=1027.8, xlo=1019.8, xhi=1163.3, sal=1059.2, amph=1131.9, y0=924.3, y1=721.7),
              aucx=934.8, aucy=820, ilsx=1049.6, iltx=1072.6, ilys=[690.7, 720], ibrx=1146.4,
              ibry=(687, 721), isig="*"),
         J_CA, J_CA_E, J_OA, J_OA_E, J_CS, J_CS_E, J_OS, J_OS_E, J_FIT_C, J_FIT_O,
         J_AUC_SAL_C, J_AUC_SAL_O, J_AUC_AMPH_C, J_AUC_AMPH_O)

tc_block(dict(letter="P", lx=1199, ly=763, color=PURPLE, title="Adult-specific Dox Off", dose="1.8 mg/kg AMPH",
              tx=1295.6, t1y=725, lsx=1312.9, ltx=1337, lys=[780, 810.7, 836.7, 866], oe_line=False,
              brx=1471, bry=(779, 812.7), sig="ns", sgx=1477, ytx=1220.7, yty=963, xtx=1452, xty=1122.7,
              main=dict(x0=1292.9, x1=1610.4, y0=1071.7, y1=861),
              inset=dict(yx=1629.6, xlo=1620.8, xhi=1762, sal=1661.5, amph=1731.3, y0=922.7, y1=723.3),
              aucx=1533.6, aucy=821.7, ilsx=1653.4, iltx=1678.3, ilys=[694, 723.3], ibrx=1744.8,
              ibry=(690.7, 723.3), isig="ns"),
         P_CA, P_CA_E, P_OA, P_OA_E, P_CS, P_CS_E, P_OS, P_OS_E, P_FIT_C, None,
         P_AUC_SAL_C, P_AUC_SAL_O, P_AUC_AMPH_C, P_AUC_AMPH_O)

tc_block(dict(letter="E", lx=2, ly=1262, color=GREEN, title="Life-time Dox On", dose="3.0 mg/kg AMPH",
              tx=111, t1y=1221, lsx=119, ltx=142.7, lys=[1275.7, 1306, 1336.7, 1370.7], oe_line=False,
              brx=280, bry=(1274.3, 1307.3), sig="ns", sgx=286.5, ytx=30.6, yty=1458, xtx=261, xty=1618.3,
              main=dict(x0=102.6, x1=419, y0=1567.7, y1=1357.3),
              inset=dict(yx=413.3, xlo=404.9, xhi=549.1, sal=445.8, amph=517.4, y0=1409.3, y1=1206),
              aucx=319.5, aucy=1305, ilsx=434.3, iltx=459.2, ilys=[1175.7, 1205], ibrx=530.7,
              ibry=(1172.3, 1205.7), isig="ns"),
         E_CA, E_CA_E, E_OA, E_OA_E, E_CS, E_CS_E, E_OS, E_OS_E, E_FIT_C, None,
         E_AUC_SAL_C, E_AUC_SAL_O, E_AUC_AMPH_C, E_AUC_AMPH_O)

tc_block(dict(letter="K", lx=596, ly=1262, color=BLUE, title="Life-time Dox Off", dose="3.0 mg/kg AMPH",
              tx=722.4, t1y=1221, lsx=713, ltx=737.8, lys=[1276, 1306, 1337.3, 1370.7], oe_line=True,
              brx=870.5, bry=(1277.3, 1310.7), sig="****", sgx=876, ytx=625, yty=1458, xtx=855.4, xty=1618.3,
              main=dict(x0=697.6, x1=1013.3, y0=1567.7, y1=1357.3),
              inset=dict(yx=1027.8, xlo=1019.8, xhi=1163.3, sal=1059.2, amph=1131.9, y0=1409.3, y1=1206),
              aucx=934.8, aucy=1305, ilsx=1049.6, iltx=1072.6, ilys=[1175.7, 1205], ibrx=1146.4,
              ibry=(1172.3, 1205.7), isig="*"),
         K_CA, K_CA_E, K_OA, K_OA_E, K_CS, K_CS_E, K_OS, K_OS_E, K_FIT_C, K_FIT_O,
         K_AUC_SAL_C, K_AUC_SAL_O, K_AUC_AMPH_C, K_AUC_AMPH_O)

tc_block(dict(letter="Q", lx=1196, ly=1262, color=PURPLE, title="Adult-specific Dox Off", dose="3.0 mg/kg AMPH",
              tx=1295.6, t1y=1221, lsx=1309.4, ltx=1333.2, lys=[1275.7, 1306, 1336.7, 1370.7], oe_line=False,
              brx=1468.3, bry=(1274.3, 1307.3), sig="ns", sgx=1474, ytx=1220.7, yty=1458, xtx=1452, xty=1618.3,
              main=dict(x0=1292.9, x1=1610.4, y0=1567.7, y1=1357.3),
              inset=dict(yx=1629.6, xlo=1620.8, xhi=1762, sal=1661.5, amph=1731.3, y0=1407.3, y1=1208.3),
              aucx=1533.6, aucy=1306.7, ilsx=1653.4, iltx=1678.3, ilys=[1179.3, 1208.3], ibrx=1744.8,
              ibry=(1175.7, 1209), isig="ns"),
         Q_CA, Q_CA_E, Q_OA, Q_OA_E, Q_CS, Q_CS_E, Q_OS, Q_OS_E, Q_FIT_C, None,
         Q_AUC_SAL_C, Q_AUC_SAL_O, Q_AUC_AMPH_C, Q_AUC_AMPH_O)

# ======================= ROW 5: stereotypy (F, L, R) =======================


def ster_block(p, t50, t80):
    color = p["color"]
    g = p["geo"]
    ppu_x = g["t80"] - g["t50"]
    y0 = 2034.0
    ppu_y = (2034.0 - 1836.7) / 100.0
    xr = [(g["xlo"] - g["t50"]) / ppu_x, (g["xhi"] - g["t50"]) / ppu_x]
    xa, ya = new_axes(g["xlo"], g["xhi"], xr, y0, y0 - 120 * ppu_y, [0, 120], ypos=g["yx"], fs=22.5, tl=8,
                      xkw=dict(tickvals=[0, 1], showticklabels=False), ykw=ticks(STER_YTICKS))
    # group labels under the ticks (kept a little higher so they stay inside the page)
    for k, lab in enumerate(STER_GROUPS):
        T(g["t50"] + k * ppu_x, 2055, lab, 21.5, anchor="center")
    offs = [-59, -20, 20, 59]
    styles = [("circle-open", "black", 2), ("square-open", color, 2), ("circle", "black", 0), ("square", color, 0)]
    for ti, grp in enumerate([t50, t80]):
        for gi, vals in enumerate(grp):
            sym, col, lw = styles[gi]
            dots(xa, ya, ti + offs[gi] / ppu_x, vals, ppu_x, ppu_y, sym, col, 9.5, lw, 12, 26, 6, 16, 7.5, 3, 2.5)
    lf = 19
    T(p["lx"], 1735, p["letter"], 46, bold=True)
    lys = [1699.3, 1735, 1770, 1804]
    SYM(p["lsx"], lys[0], "c", "black", True, 9.5)
    SYM(p["lsx"], lys[1], "s", color, True, 9.5)
    SYM(p["lsx"], lys[2], "c", "black", False, 9.5)
    SYM(p["lsx"], lys[3], "s", color, False, 9.5)
    for y, lab in zip(lys, ["Control | AMPH", "<i>Th</i>-OE | AMPH", "Control | SAL", "<i>Th</i>-OE | SAL"]):
        T(p["ltx"], y, lab, lf)
    BRACKET(p["brx"], 1699.3, 1736.7, 6.5, 2.2)
    SIG(p["brx"] + 6, 1718, p["sig"], lf)
    T(p["tx"], 1750.7, p["title"], 22, color, bold=True)
    T(p["tx"], 1777, "8.0 mg/kg AMPH", 22, color, bold=True)
    T(p["ytx"], 1912, "Time spent in Stereotypy, %", 22, anchor="center", angle=-90)


ster_block(dict(letter="F", lx=2, color=GREEN, title="Life-time Dox On", tx=344.4, sig="ns", lsx=148.5,
                ltx=176, brx=327.2, ytx=55.5,
                geo=dict(yx=125.5, xlo=116.7, xhi=480.2, t50=211.6, t80=395.3)),
           [F_T50_CS, F_T50_OS, F_T50_CA, F_T50_OA], [F_T80_CS, F_T80_OS, F_T80_CA, F_T80_OA])
ster_block(dict(letter="L", lx=597, color=BLUE, title="Life-time Dox Off", tx=943.6, sig="**", lsx=748.2,
                ltx=774.9, brx=926.9, ytx=653.2,
                geo=dict(yx=723.2, xlo=706.4, xhi=1080.5, t50=810.6, t80=996.8)),
           [L_T50_CS, L_T50_OS, L_T50_CA, L_T50_OA], [L_T80_CS, L_T80_OS, L_T80_CA, L_T80_OA])
ster_block(dict(letter="R", lx=1195, color=PURPLE, title="Adult-specific Dox Off", tx=1521.4, sig="ns",
                lsx=1324.5, ltx=1351.1, brx=1503.2, ytx=1231,
                geo=dict(yx=1299.4, xlo=1282.7, xhi=1656.7, t50=1386.8, t80=1571.6)),
           [R_T50_CS, R_T50_OS, R_T50_CA, R_T50_OA], [R_T80_CS, R_T80_OS, R_T80_CA, R_T80_OA])

# ======================= LAYOUT =======================
fig.update_layout(width=W, height=H, autosize=False,
                  margin=dict(l=0, r=0, t=0, b=0, pad=0, autoexpand=False),
                  paper_bgcolor="white", plot_bgcolor="rgba(0,0,0,0)", showlegend=False,
                  font=dict(family=FONT, color="black"), shapes=SHAPES, annotations=ANNS, **AXES)

# remove the default page margin synchronously (right after the plot call) so the
# figure sits exactly in the 1792x2070 window
PAGE_FIX = ("}); document.documentElement.style.margin='0'; document.body.style.margin='0'; "
            "document.body.style.padding='0'; document.documentElement.style.overflow='hidden'; "
            "document.body.style.overflow='hidden'; (function(){")

fig.write_html("out.html", include_plotlyjs=True, config=dict(displayModeBar=False),
               post_script=PAGE_FIX)
